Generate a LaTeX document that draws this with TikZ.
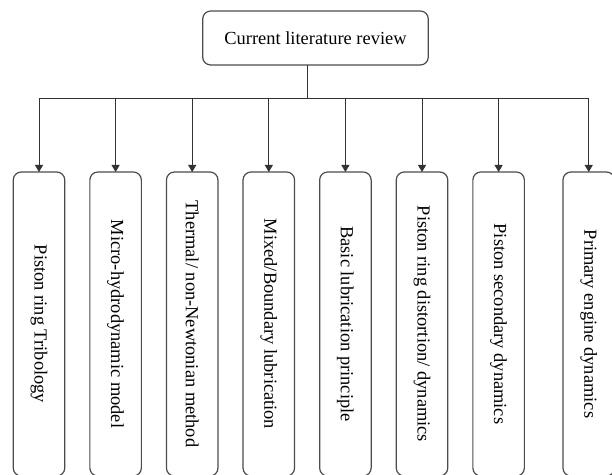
\documentclass[tikz,border=0pt]{standalone}
\usepackage{fontspec}
\setmainfont{Liberation Serif}
\usetikzlibrary{positioning,arrows.meta}

\begin{document}
\begin{tikzpicture}[
    x=1bp, y=1bp,
    font=\fontsize{18.5}{22}\selectfont,
    review/.style={
        draw=black!70, line width=1.2bp, rounded corners=8bp,
        minimum width=225.6bp, minimum height=54bp,
        inner sep=0pt, outer sep=0pt
    },
    topic/.style={
        draw=black!70, line width=1.2bp, rounded corners=8bp,
        minimum width=51.5bp, minimum height=304bp,
        inner sep=0pt, outer sep=0pt
    },
    link/.style={draw=black!80, line width=1bp},
    arrow/.style={-{Triangle[length=7bp,width=8bp]}, draw=black!80, line width=1bp},
]

\useasboundingbox (0,0) rectangle (612,-475);

% ============ Review ============

\node[review] (review) at (315.5,-38) {Current literature review};
\coordinate (bus) at (307,-99);

% ============ Topics ============

\node[topic] (t1) at (39,-324) {\rotatebox{-90}{Piston ring Tribology}};
\node[topic, right=25.1bp of t1] (t2) {\rotatebox{-90}{Micro-hydrodynamic model}};
\node[topic, right=25.1bp of t2] (t3) {\rotatebox{-90}{Thermal/ non-Newtonian method}};
\node[topic, right=25.1bp of t3] (t4) {\rotatebox{-90}{Mixed/Boundary lubrication}};
\node[topic, right=25.1bp of t4] (t5) {\rotatebox{-90}{Basic lubrication principle}};
\node[topic, right=25.1bp of t5] (t6) {\rotatebox{-90}{Piston ring distortion/ dynamics}};
\node[topic, right=25.1bp of t6] (t7) {\rotatebox{-90}{Piston secondary dynamics}};
\node[topic, right=38.6bp of t7] (t8) {\rotatebox{-90}{Primary engine dynamics}};

% ============ Arrows ============

\draw[link] (bus |- review.south) -- (bus);

\draw[arrow] (bus) -| (t1.north);
\draw[arrow] (bus) -| (t2.north);
\draw[arrow] (bus) -| (t3.north);
\draw[arrow] (bus) -| (t4.north);
\draw[arrow] (bus) -| (t5.north);
\draw[arrow] (bus) -| (t6.north);
\draw[arrow] (bus) -| (t7.north);
\draw[arrow] (bus) -| (t8.north);

\end{tikzpicture}
\end{document}
